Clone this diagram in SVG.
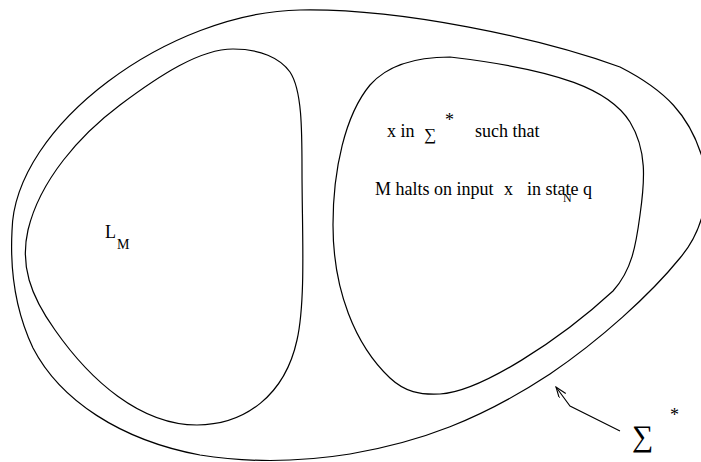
<svg xmlns="http://www.w3.org/2000/svg" width="701" height="462" viewBox="0 0 701 462">
<style>
.shape{fill:none;stroke:#000;stroke-width:1.2}
.t{font-family:"Liberation Serif","DejaVu Serif",serif;fill:#000}
.conn{fill:none;stroke:#000;stroke-width:1.1}
</style>
<defs>
<marker id="open" markerWidth="12" markerHeight="10" refX="11" refY="4" orient="auto" markerUnits="userSpaceOnUse">
<path d="M0,0 L11,4 L0,8" fill="none" stroke="#000" stroke-width="1.1"/>
</marker>
</defs>
<rect width="701" height="462" fill="#fff"/>
<g id="sigma-star">
<path class="shape" d="M300,10 C400,8 540,38 620,67 C665,90 690,115 703,160 C712,195 702,232 680,258 C650,295 600,340 550,374 C480,420 420,442 350,454 C300,462 250,463 200,455 C120,440 60,400 33,348 C15,310 10,270 12,231 C14,125 170,12 300,10 Z"/>
<text class="t" x="632" y="446" font-size="30">∑</text>
<text class="t" x="670" y="421" font-size="18">*</text>
</g>
<g id="L_M">
<path class="shape" d="M233,49 C260,49 280,58 290,72 C302,90 302,130 302,170 C302,230 306,300 297,340 C285,395 245,425 197,425 C140,425 90,380 55,330 C30,295 20,265 28,230 C40,180 80,135 120,105 C160,75 200,49 233,49 Z"/>
<text class="t" x="105" y="238" font-size="18">L</text>
<text class="t" x="117" y="249" font-size="14">M</text>
</g>
<g id="halting-set">
<path class="shape" d="M450,57 C410,57 385,68 370,85 C345,115 333,170 333,225 C333,290 355,345 390,378 C405,392 420,395 440,394 C480,392 560,340 613,291 C632,270 636,245 640,215 C645,180 647,150 630,122 C610,90 560,70 450,57 Z"/>
<text class="t" x="387" y="137" font-size="18">x in</text>
<text class="t" x="424" y="140" font-size="17">∑</text>
<text class="t" x="445" y="126" font-size="18">*</text>
<text class="t" x="475" y="137" font-size="18">such that</text>
<text class="t" x="375" y="195" font-size="18">M halts on input</text>
<text class="t" x="504" y="195" font-size="18">x</text>
<text class="t" x="527" y="195" font-size="18">in state q</text>
<text class="t" x="563" y="202" font-size="12">N</text>
</g>
<g id="connectors">
<polyline class="conn" points="620,431 570,406 556,387" marker-end="url(#open)"/>
</g>
</svg>
